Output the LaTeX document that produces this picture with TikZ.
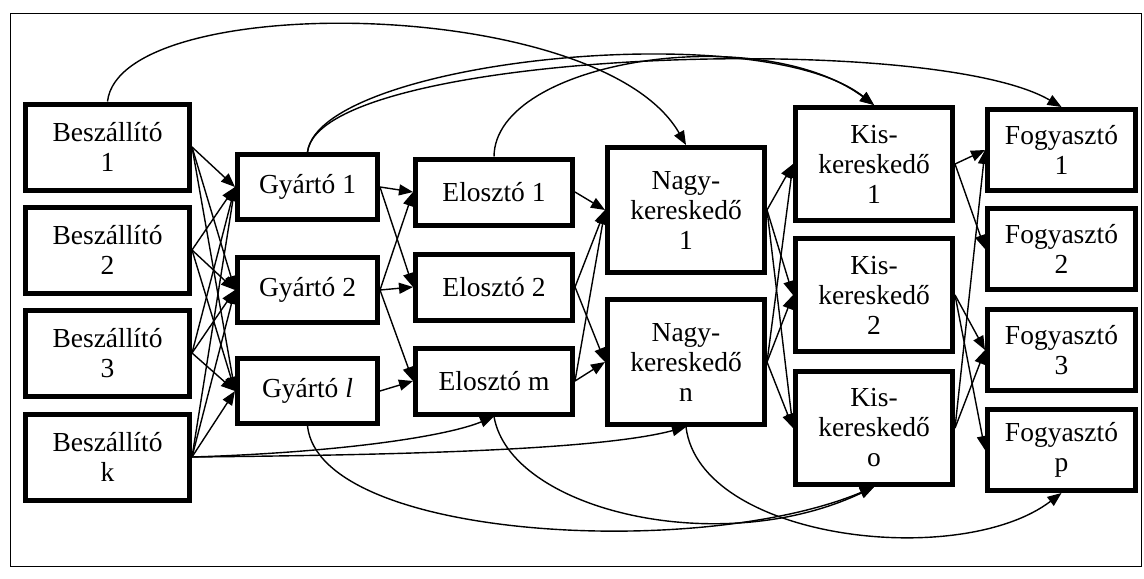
\documentclass[tikz,border=0pt]{standalone}
\usepackage{fontspec}
\setmainfont{Liberation Serif}
\usetikzlibrary{arrows.meta}

\begin{document}
\begin{tikzpicture}[x=0.5pt, y=-0.5pt,
  every node/.style={font=\fontsize{13.75}{15}\selectfont},
  box/.style={draw, line width=2.5pt, align=center, inner sep=0pt},
  arr/.style={-{Triangle[length=7pt,width=5.5pt]}, line width=0.7pt}]
  % Frame
  \useasboundingbox (0,0) rectangle (1144,578);
  \draw[line width=0.5pt] (10,13) rectangle (1141,566);

  % Suppliers
  \node[box, minimum width=82pt, minimum height=43pt] (b1) at (107.5,147) {Beszállító\\1};
  \node[box, minimum width=82pt, minimum height=43pt] (b2) at (107.5,250) {Beszállító\\2};
  \node[box, minimum width=82pt, minimum height=43pt] (b3) at (107.5,353) {Beszállító\\3};
  \node[box, minimum width=82pt, minimum height=43pt] (bk) at (107.5,457) {Beszállító\\k};

  % Manufacturers
  \node[box, minimum width=70pt, minimum height=32.5pt] (g1) at (307.5,187) {Gyártó 1};
  \node[box, minimum width=70pt, minimum height=32.5pt] (g2) at (307.5,290) {Gyártó 2};
  \node[box, minimum width=70pt, minimum height=32.5pt] (gl) at (307.5,391) {Gyártó \textit{l}};

  % Distributors
  \node[box, minimum width=78.5pt, minimum height=33pt] (e1) at (494,192) {Elosztó 1};
  \node[box, minimum width=78.5pt, minimum height=33pt] (e2) at (494,287) {Elosztó 2};
  \node[box, minimum width=78.5pt, minimum height=33pt] (em) at (494,381) {Elosztó m};

  % Wholesalers
  \node[box, minimum width=78.5pt, minimum height=62.5pt] (n1) at (686,210) {Nagy-\\kereskedő\\1};
  \node[box, minimum width=78.5pt, minimum height=62.5pt] (nn) at (686,362) {Nagy-\\kereskedő\\n};

  % Retailers
  \node[box, minimum width=78.5pt, minimum height=56.5pt] (k1) at (874,164) {Kis-\\kereskedő\\1};
  \node[box, minimum width=78.5pt, minimum height=56.5pt] (k2) at (874,295) {Kis-\\kereskedő\\2};
  \node[box, minimum width=78.5pt, minimum height=56.5pt] (ko) at (874,428) {Kis-\\kereskedő\\o};

  % Consumers
  \node[box, minimum width=74pt, minimum height=40.5pt] (f1) at (1061.5,150) {Fogyasztó\\1};
  \node[box, minimum width=74pt, minimum height=40.5pt] (f2) at (1061.5,249) {Fogyasztó\\2};
  \node[box, minimum width=74pt, minimum height=40.5pt] (f3) at (1061.5,350) {Fogyasztó\\3};
  \node[box, minimum width=74pt, minimum height=40.5pt] (fp) at (1061.5,450) {Fogyasztó\\p};

  % Links between neighbouring levels
  \foreach \s in {b1,b2,b3,bk}
    \foreach \t in {g1,g2,gl}
      \draw[arr] (\s.east) -- (\t.west);
  \foreach \s/\t in {g1/e1, g1/e2, g2/e1, g2/e2, g2/em, gl/em,
                     e1/n1, e2/n1, e2/nn, em/n1, em/nn,
                     k1/f1, k1/f2, k2/f3, k2/fp, ko/f3, ko/f1}
    \draw[arr] (\s.east) -- (\t.west);
  \foreach \s in {n1,nn}
    \foreach \t in {k1,k2,ko}
      \draw[arr] (\s.east) -- (\t.west);

  % Skipping links over the top
  \draw[arr] (b1.north) .. controls (120,-10) and (600,-5) .. (n1.north);
  \draw[arr] (g1.north) .. controls (320,60) and (760,15) .. (k1.north);
  \draw[arr] (g1.north) .. controls (320,50) and (930,30) .. (f1.north);
  \draw[arr] (e1.north) .. controls (495,60) and (760,20) .. (k1.north);

  % Skipping links underneath
  \draw[arr] (bk.east) .. controls (350,452) and (450,435) .. (em.south);
  \draw[arr] (bk.east) .. controls (400,455) and (600,450) .. (nn.south);
  \draw[arr] (gl.south) .. controls (320,540) and (700,560) .. (ko.south);
  \draw[arr] (em.south) .. controls (510,510) and (720,560) .. (ko.south);
  \draw[arr] (nn.south) .. controls (700,540) and (960,570) .. (fp.south);
\end{tikzpicture}
\end{document}
